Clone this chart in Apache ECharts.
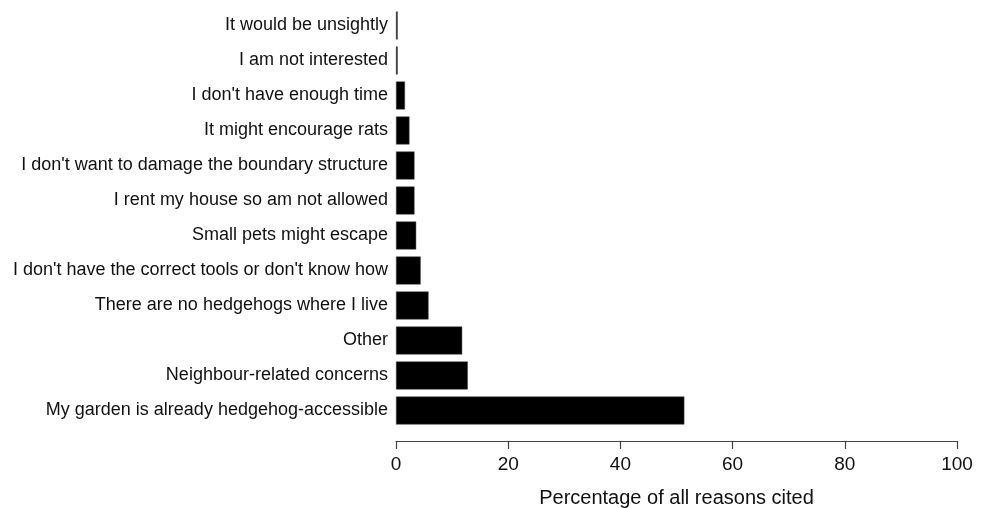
<!DOCTYPE html>
<html><head><meta charset="utf-8">
<script src="https://cdn.jsdelivr.net/npm/echarts@6/dist/echarts.min.js"></script>
<style>html,body{margin:0;padding:0;background:#fff}#c{width:989px;height:508px}</style>
</head><body><div id="c"></div>
<script>
const categories = [
  "My garden is already hedgehog-accessible",
  "Neighbour-related concerns",
  "Other",
  "There are no hedgehogs where I live",
  "I don't have the correct tools or don't know how",
  "Small pets might escape",
  "I rent my house so am not allowed",
  "I don't want to damage the boundary structure",
  "It might encourage rats",
  "I don't have enough time",
  "I am not interested",
  "It would be unsightly"
];
const values = [51.4, 12.8, 11.8, 5.8, 4.4, 3.6, 3.3, 3.3, 2.4, 1.6, 0.3, 0.3];
const xTicks = [0, 20, 40, 60, 80, 100];
const xTitle = "Percentage of all reasons cited";

const chart = echarts.init(document.getElementById('c'));
const font = "'Liberation Sans', Arial, sans-serif";
chart.setOption({
  animation: false,
  grid: { left: 396, right: 32, top: 8, height: 420, containLabel: false, outerBoundsMode: 'none' },
  xAxis: {
    type: 'value', min: 0, max: 100, interval: 20,
    offset: 13,
    axisLine: { show: true, lineStyle: { color: '#444', width: 1.2 } },
    axisTick: { show: true, length: 8, lineStyle: { color: '#444', width: 1.2 } },
    splitLine: { show: false },
    axisLabel: { color: '#111', fontSize: 19, fontFamily: font, margin: 14,
      formatter: v => xTicks.includes(v) ? String(v) : '' },
    name: xTitle, nameLocation: 'middle', nameGap: 47,
    nameTextStyle: { color: '#111', fontSize: 20, fontFamily: font }
  },
  yAxis: {
    type: 'category', data: categories,
    axisLine: { show: false }, axisTick: { show: false },
    axisLabel: { color: '#111', fontSize: 18, fontFamily: font, margin: 8 }
  },
  series: [{
    type: 'bar', data: values, barCategoryGap: '20%',
    itemStyle: { color: '#000', borderColor: '#444', borderWidth: 0.5 }
  }]
});
</script></body></html>
